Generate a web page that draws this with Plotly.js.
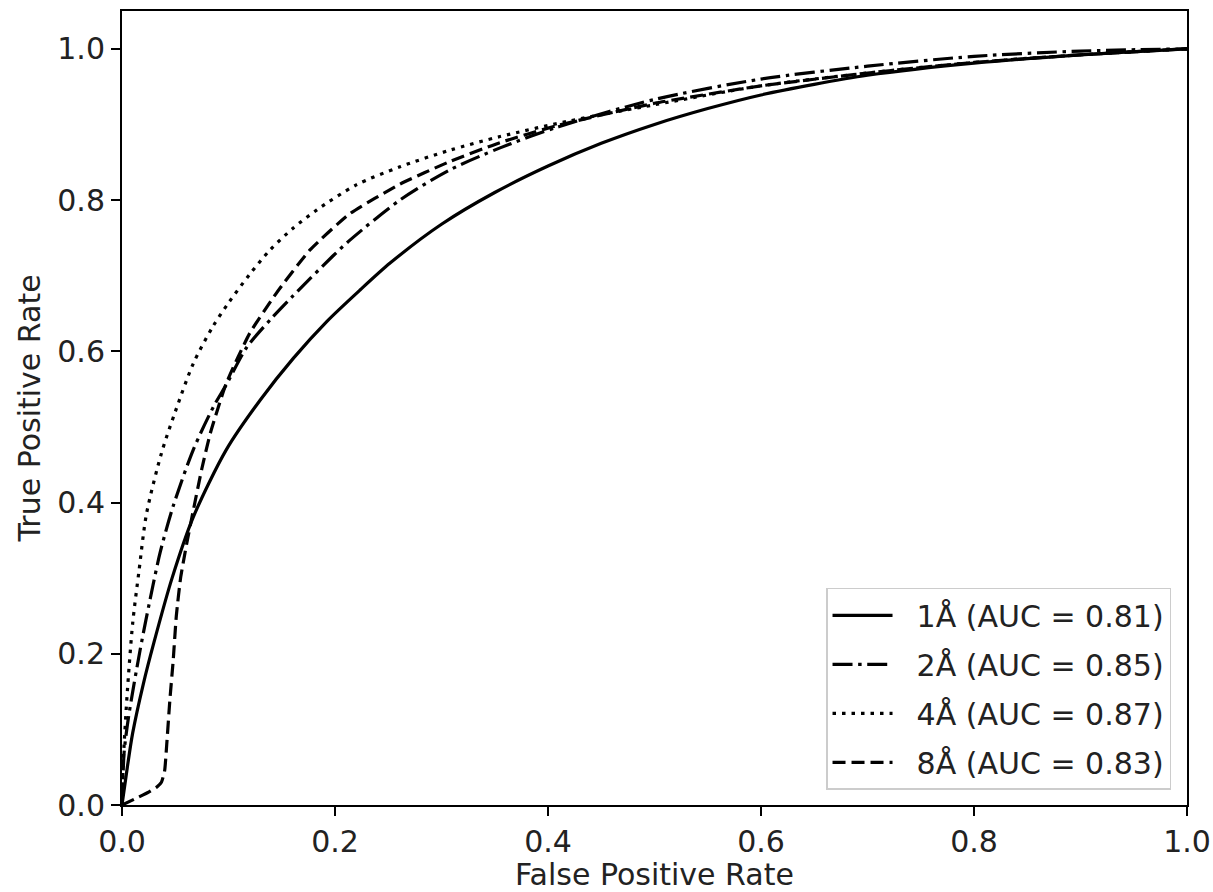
<!DOCTYPE html>
<html>
<head>
<meta charset="utf-8">
<script src="https://cdn.plot.ly/plotly-3.0.1.min.js"></script>
<style>html,body{margin:0;padding:0;background:#fff;}#chart{width:1213px;height:892px;}</style>
</head>
<body>
<div id="chart"></div>
<script>
// Series labels
const labels = ["1Å (AUC = 0.81)", "2Å (AUC = 0.85)", "4Å (AUC = 0.87)", "8Å (AUC = 0.83)"];

// 1Å (solid)
const fpr1 = [0, 0.005, 0.01, 0.02, 0.03, 0.047, 0.067, 0.098, 0.13, 0.161, 0.192, 0.2235, 0.252, 0.3, 0.35, 0.4, 0.45, 0.5, 0.55, 0.6, 0.65, 0.7, 0.8, 0.9, 1.0];
const tpr1 = [0, 0.05, 0.095, 0.16, 0.215, 0.30, 0.381, 0.47, 0.536, 0.591, 0.639, 0.681, 0.717, 0.768, 0.81, 0.845, 0.875, 0.9, 0.921, 0.939, 0.953, 0.965, 0.981, 0.992, 1.0];

// 2Å (dash-dot)
const fpr2 = [0, 0.001, 0.002, 0.006, 0.017, 0.029, 0.036, 0.048, 0.067, 0.086, 0.098, 0.117, 0.14, 0.161, 0.198, 0.214, 0.261, 0.308, 0.355, 0.41, 0.5, 0.6, 0.7, 0.8, 0.9, 1.0];
const tpr2 = [0, 0.04, 0.07, 0.115, 0.205, 0.29, 0.335, 0.395, 0.47, 0.527, 0.556, 0.605, 0.643, 0.674, 0.726, 0.747, 0.800, 0.840, 0.869, 0.897, 0.933, 0.960, 0.977, 0.990, 0.997, 1.0];

// 4Å (dotted)
const fpr4 = [0, 0.001, 0.002, 0.005, 0.01, 0.016, 0.023, 0.037, 0.05, 0.067, 0.085, 0.1, 0.12, 0.139, 0.16, 0.183, 0.22, 0.261, 0.308, 0.355, 0.418, 0.5, 0.6, 0.7, 0.8, 0.9, 1.0];
const tpr4 = [0, 0.05, 0.08, 0.15, 0.24, 0.31, 0.385, 0.465, 0.52, 0.584, 0.632, 0.664, 0.702, 0.734, 0.762, 0.787, 0.82, 0.844, 0.866, 0.884, 0.904, 0.926, 0.951, 0.968, 0.982, 0.992, 1.0];

// 8Å (dashed)
const fpr8 = [0, 0.012, 0.025, 0.033, 0.037, 0.040, 0.042, 0.045, 0.048, 0.051, 0.055, 0.06, 0.067, 0.075, 0.083, 0.098, 0.12, 0.145, 0.1765, 0.214, 0.261, 0.308, 0.355, 0.41, 0.5, 0.6, 0.7, 0.8, 0.9, 1.0];
const tpr8 = [0, 0.008, 0.017, 0.024, 0.03, 0.045, 0.08, 0.14, 0.19, 0.25, 0.30, 0.34, 0.39, 0.445, 0.492, 0.558, 0.624, 0.677, 0.734, 0.782, 0.821, 0.851, 0.876, 0.899, 0.928, 0.951, 0.968, 0.982, 0.992, 1.0];

const font = "DejaVu Sans, Liberation Sans, sans-serif";
const lw = 3.2;
const pad = "\u00a0\u00a0";

const traces = [
  {x: fpr1, y: tpr1, name: pad + labels[0], legendgroup: "a", line: {color: "#000", width: lw, dash: "solid", shape: "spline", smoothing: 0.8}},
  {x: fpr2, y: tpr2, name: pad + labels[1], legendgroup: "b", line: {color: "#000", width: lw, dash: "20px,5.6px,3.5px,5.6px", shape: "spline", smoothing: 0.8}},
  {x: fpr4, y: tpr4, name: pad + labels[2], legendgroup: "c", line: {color: "#000", width: lw, dash: "3.5px,6px", shape: "spline", smoothing: 0.8}},
  {x: fpr8, y: tpr8, name: pad + labels[3], legendgroup: "d", line: {color: "#000", width: lw, dash: "13px,6px", shape: "spline", smoothing: 0.5}}
].map(t => Object.assign({type: "scatter", mode: "lines"}, t));

const axisCommon = {
  showgrid: false, zeroline: false, showline: true, mirror: true,
  linecolor: "#000", linewidth: 2, ticks: "outside", ticklen: 9, tickwidth: 2, tickcolor: "#000",
  tickfont: {family: font, size: 30, color: "#222"}
};

const layout = {
  width: 1213, height: 892,
  margin: {l: 122, r: 26, t: 11, b: 87},
  paper_bgcolor: "#fff", plot_bgcolor: "#fff",
  font: {family: font, color: "#222"},
  xaxis: Object.assign({}, axisCommon, {
    range: [0, 1], tickvals: [0, 0.2, 0.4, 0.6, 0.8, 1.0], ticktext: ["0.0", "0.2", "0.4", "0.6", "0.8", "1.0"],
    title: {text: "False Positive Rate", font: {family: font, size: 30, color: "#222"}, standoff: 16}
  }),
  yaxis: Object.assign({}, axisCommon, {
    range: [0, 1.05], tickvals: [0, 0.2, 0.4, 0.6, 0.8, 1.0], ticktext: ["0.0", "0.2", "0.4", "0.6", "0.8", "1.0"],
    title: {text: "True Positive Rate", font: {family: font, size: 30, color: "#222"}, standoff: 8}
  }),
  showlegend: true,
  legend: {
    x: 0.985, y: 0.019, xanchor: "right", yanchor: "bottom",
    bgcolor: "rgba(255,255,255,0.8)", bordercolor: "#cccccc", borderwidth: 1.5,
    font: {family: font, size: 30, color: "#222"},
    tracegroupgap: 7, traceorder: "grouped", itemwidth: 60
  }
};

Plotly.newPlot("chart", traces, layout, {displayModeBar: false, staticPlot: true});
</script>
</body>
</html>
